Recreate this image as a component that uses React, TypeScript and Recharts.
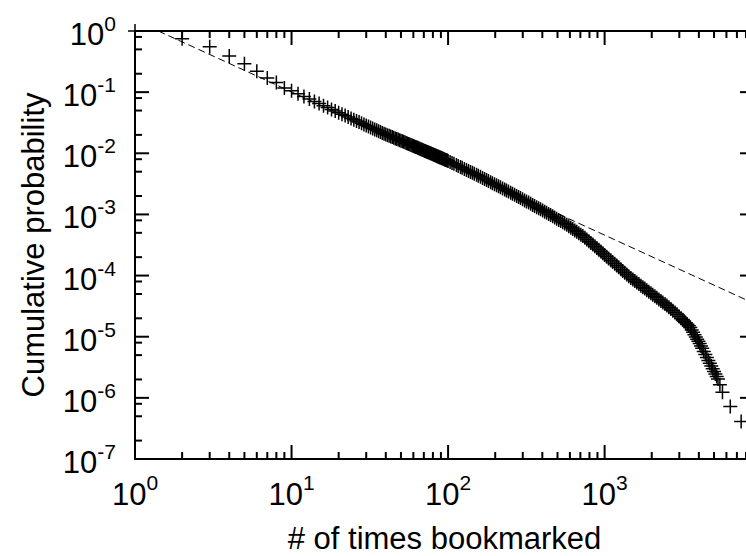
import React from "react";
import { ScatterChart, Scatter, XAxis, YAxis, ReferenceArea } from "recharts";

// Number of times an item was bookmarked (x) and the fraction of items
// bookmarked at least that many times (y).
const bookmarkCounts = [
  1, 2, 3, 4, 5, 6, 7, 8, 9, 10,
  11, 12, 13, 14, 15, 16, 17, 18, 19, 20,
  21, 22, 23, 24, 25, 26, 27, 28, 29, 30,
  31, 32, 33, 34, 35, 36, 37, 38, 39, 40,
  41, 42, 43, 44, 45, 46, 47, 48, 49, 50,
  51, 52, 53, 54, 55, 56, 57, 58, 59, 60,
  61, 62, 63, 64, 65, 66, 67, 68, 69, 70,
  71, 72, 73, 74, 75, 76, 77, 78, 79, 80,
  81, 82, 83, 84, 85, 86, 87, 88, 89, 90,
  91, 92, 93, 94, 95, 96, 97, 98, 99, 100,
  103, 106, 109, 113, 116, 120, 123, 127, 131, 135,
  139, 143, 147, 152, 156, 161, 166, 171, 176, 181,
  187, 192, 198, 204, 210, 216, 223, 230, 236, 243,
  251, 258, 266, 274, 282, 290, 299, 308, 317, 327,
  337, 347, 357, 368, 379, 390, 402, 414, 426, 439,
  452, 466, 480, 494, 509, 524, 540, 556, 573, 590,
  608, 626, 645, 664, 684, 705, 726, 748, 770, 793,
  817, 841, 866, 892, 919, 947, 975, 1000, 1030, 1060,
  1095, 1125, 1160, 1195, 1230, 1270, 1305, 1345, 1385, 1425,
  1470, 1515, 1560, 1605, 1655, 1705, 1755, 1805, 1860, 1915,
  1975, 2030, 2095, 2155, 2220, 2290, 2355, 2430, 2500, 2575,
  2650, 2730, 2815, 2900, 2985, 3075, 3150, 3225, 3300, 3375,
  3450, 3525, 3600, 3675, 3750, 3825, 3900, 3975, 4050, 4125,
  4200, 4300, 4400, 4500, 4600, 4700, 4800, 4900, 5000, 5100,
  5200, 5300, 5450, 5660, 6350, 7450,
];

const cumulativeProb = [
  1.0, 0.75, 0.55, 0.39, 0.29, 0.22, 0.17, 0.144, 0.117, 0.105,
  0.094, 0.085, 0.077, 0.0706, 0.065, 0.06, 0.056, 0.052, 0.049, 0.046,
  0.0436, 0.0413, 0.0392, 0.0372, 0.0355, 0.0338, 0.0324, 0.031, 0.0297, 0.0285,
  0.0274, 0.0264, 0.0255, 0.0246, 0.0237, 0.023, 0.0222, 0.0215, 0.0209, 0.0202,
  0.0198, 0.0193, 0.0188, 0.0184, 0.018, 0.0175, 0.0171, 0.0168, 0.0164, 0.016,
  0.0157, 0.0154, 0.0151, 0.0148, 0.0145, 0.0142, 0.0139, 0.0137, 0.0134, 0.0132,
  0.01295, 0.01272, 0.0125, 0.01228, 0.01207, 0.01187, 0.01168, 0.01149, 0.01131, 0.01113,
  0.01095, 0.01079, 0.01063, 0.01047, 0.01031, 0.01017, 0.01002, 0.00988, 0.00974, 0.0096,
  0.00947, 0.00935, 0.00922, 0.0091, 0.00898, 0.00887, 0.00876, 0.00865, 0.00854, 0.00844,
  0.00834, 0.00824, 0.00814, 0.00804, 0.00795, 0.00786, 0.00777, 0.00768, 0.0076, 0.00748,
  0.00721, 0.00696, 0.00672, 0.00642, 0.00622, 0.00596, 0.00578, 0.00555, 0.00534, 0.00514,
  0.00496, 0.00479, 0.00462, 0.00444, 0.00429, 0.00412, 0.00396, 0.0038, 0.00366, 0.00352,
  0.00337, 0.00325, 0.00312, 0.003, 0.00288, 0.00277, 0.00266, 0.00255, 0.00246, 0.00237,
  0.00226, 0.00218, 0.00209, 0.002, 0.00192, 0.00185, 0.00177, 0.00169, 0.00163, 0.00156,
  0.00149, 0.00143, 0.00137, 0.00131, 0.00126, 0.00121, 0.00116, 0.00111, 0.00107, 0.00102,
  0.000978, 0.000933, 0.000891, 0.000852, 0.000814, 0.000778, 0.000742, 0.00071, 0.000676, 0.000642,
  0.000608, 0.000577, 0.000547, 0.000519, 0.000493, 0.000467, 0.000443, 0.000415, 0.000389, 0.000365,
  0.000342, 0.000321, 0.000301, 0.000282, 0.000264, 0.000247, 0.000231, 0.000218, 0.000204, 0.000191,
  0.000178, 0.000167, 0.000156, 0.000146, 0.000137, 0.000127, 0.000119, 0.000111, 0.000104, 9.74e-5,
  9.13e-5, 8.61e-5, 8.13e-5, 7.69e-5, 7.25e-5, 6.84e-5, 6.46e-5, 6.12e-5, 5.77e-5, 5.45e-5,
  5.13e-5, 4.86e-5, 4.57e-5, 4.33e-5, 4.08e-5, 3.84e-5, 3.64e-5, 3.42e-5, 3.23e-5, 3.03e-5,
  2.84e-5, 2.67e-5, 2.49e-5, 2.33e-5, 2.17e-5, 2.01e-5, 1.9e-5, 1.79e-5, 1.69e-5, 1.6e-5,
  1.51e-5, 1.41e-5, 1.29e-5, 1.18e-5, 1.08e-5, 9.91e-6, 9.11e-6, 8.4e-6, 7.73e-6, 7.06e-6,
  6.45e-6, 5.73e-6, 5.11e-6, 4.57e-6, 4.09e-6, 3.67e-6, 3.32e-6, 3.0e-6, 2.71e-6, 2.46e-6,
  2.24e-6, 2.04e-6, 1.64e-6, 1.23e-6, 7.2e-7, 4.1e-7,
];

// Power-law fit drawn as a dashed line (end points inside the plot box).
const fitX = [1.41, 9000];
const fitY = [1.0, 3.5e-5];

const xTickValues = [
  1, 2, 3, 4, 5, 6, 7, 8, 9,
  10, 20, 30, 40, 50, 60, 70, 80, 90,
  100, 200, 300, 400, 500, 600, 700, 800, 900,
  1000, 2000, 3000, 4000, 5000, 6000, 7000, 8000,
];

const yTickValues = [
  1e-7, 2e-7, 5e-7, 8e-7,
  1e-6, 2e-6, 5e-6, 8e-6,
  1e-5, 2e-5, 5e-5, 8e-5,
  1e-4, 2e-4, 5e-4, 8e-4,
  1e-3, 2e-3, 5e-3, 8e-3,
  1e-2, 2e-2, 5e-2, 8e-2,
  1e-1, 2e-1, 5e-1, 8e-1,
  1,
];

const X_DOMAIN: [number, number] = [1, 9000];
const Y_DOMAIN: [number, number] = [1e-7, 1];

const points = bookmarkCounts.map((x, i) => ({ x, y: cumulativeProb[i] }));
const fitLine = fitX.map((x, i) => ({ x, y: fitY[i] }));

// Layout
const CHART_W = 770;
const CHART_H = 556;
const PLOT_TOP = 31;
const PLOT_LEFT = 135;
const X_AXIS_H = 97;
const RIGHT_MARGIN = 16;
const PLOT_BOTTOM = CHART_H - X_AXIS_H;
const PLOT_RIGHT = CHART_W - RIGHT_MARGIN;

const FONT = "'Liberation Sans', Arial, Helvetica, sans-serif";
const MAJOR_LEN = 14;
const MINOR_LEN = 7;

const isDecade = (v: number) =>
  Math.abs(Math.log10(v) - Math.round(Math.log10(v))) < 1e-6;

function XTick(props: any) {
  const { x, payload } = props;
  const v = payload.value as number;
  const major = isDecade(v);
  const len = major ? MAJOR_LEN : MINOR_LEN;
  const exp = Math.round(Math.log10(v));
  return (
    <g>
      <line x1={x} y1={PLOT_BOTTOM} x2={x} y2={PLOT_BOTTOM - len} stroke="#000" strokeWidth={2} />
      <line x1={x} y1={PLOT_TOP} x2={x} y2={PLOT_TOP + len} stroke="#000" strokeWidth={2} />
      {major && (
        <text x={x} y={PLOT_BOTTOM + 46} textAnchor="middle" fontFamily={FONT} fontSize={31} fill="#000">
          10
          <tspan dy={-15} fontSize={21}>{String(exp)}</tspan>
        </text>
      )}
    </g>
  );
}

function YTick(props: any) {
  const { y, payload } = props;
  const v = payload.value as number;
  const major = isDecade(v);
  const len = major ? MAJOR_LEN : MINOR_LEN;
  const exp = Math.round(Math.log10(v));
  return (
    <g>
      <line x1={PLOT_LEFT} y1={y} x2={PLOT_LEFT + len} y2={y} stroke="#000" strokeWidth={2} />
      <line x1={PLOT_RIGHT} y1={y} x2={PLOT_RIGHT - len} y2={y} stroke="#000" strokeWidth={2} />
      {major && (
        <text x={116} y={y + 14} textAnchor="end" fontFamily={FONT} fontSize={31} fill="#000">
          10
          <tspan dy={-14} fontSize={21}>{exp < 0 ? "-" + String(-exp) : String(exp)}</tspan>
        </text>
      )}
    </g>
  );
}

function XTitle() {
  return (
    <text
      x={(PLOT_LEFT + PLOT_RIGHT) / 2}
      y={549}
      textAnchor="middle"
      fontFamily={FONT}
      fontSize={31}
      fill="#000"
    >
      # of times bookmarked
    </text>
  );
}

function YTitle() {
  const cy = (PLOT_TOP + PLOT_BOTTOM) / 2;
  return (
    <text
      x={0}
      y={0}
      transform={`translate(43.5, ${cy}) rotate(-90)`}
      textAnchor="middle"
      fontFamily={FONT}
      fontSize={31}
      fill="#000"
    >
      Cumulative probability
    </text>
  );
}

function Cross(props: any) {
  const { cx, cy } = props;
  if (cx == null || cy == null) return <g />;
  const h = 7;
  return (
    <path
      d={`M${cx - h},${cy}h${2 * h}M${cx},${cy - h}v${2 * h}`}
      stroke="#000"
      strokeWidth={1.5}
      fill="none"
    />
  );
}

const NoMarker = () => <g />;

export default function App() {
  return (
    <div
      style={{
        position: "fixed",
        left: 0,
        top: 0,
        width: 746,
        height: 556,
        overflow: "hidden",
        background: "#fff",
      }}
    >
      <ScatterChart
        width={CHART_W}
        height={CHART_H}
        margin={{ top: PLOT_TOP, right: RIGHT_MARGIN, bottom: 0, left: 0 }}
      >
        <XAxis
          dataKey="x"
          type="number"
          scale="log"
          domain={X_DOMAIN}
          ticks={xTickValues}
          interval={0}
          height={X_AXIS_H}
          tickSize={0}
          tickMargin={0}
          tickLine={false}
          axisLine={false}
          tick={<XTick />}
          label={<XTitle />}
        />
        <YAxis
          dataKey="y"
          type="number"
          scale="log"
          domain={Y_DOMAIN}
          ticks={yTickValues}
          interval={0}
          width={PLOT_LEFT}
          tickSize={0}
          tickMargin={0}
          tickLine={false}
          axisLine={false}
          tick={<YTick />}
          label={<YTitle />}
        />
        <ReferenceArea
          x1={X_DOMAIN[0]}
          x2={X_DOMAIN[1]}
          y1={Y_DOMAIN[0]}
          y2={Y_DOMAIN[1]}
          fill="none"
          fillOpacity={0}
          stroke="#000"
          strokeWidth={2}
          strokeOpacity={1}
        />
        <Scatter data={points} shape={<Cross />} isAnimationActive={false} />
        <Scatter
          data={fitLine}
          shape={<NoMarker />}
          line={{ stroke: "#000", strokeWidth: 1, strokeDasharray: "7 4" }}
          isAnimationActive={false}
        />
      </ScatterChart>
    </div>
  );
}
